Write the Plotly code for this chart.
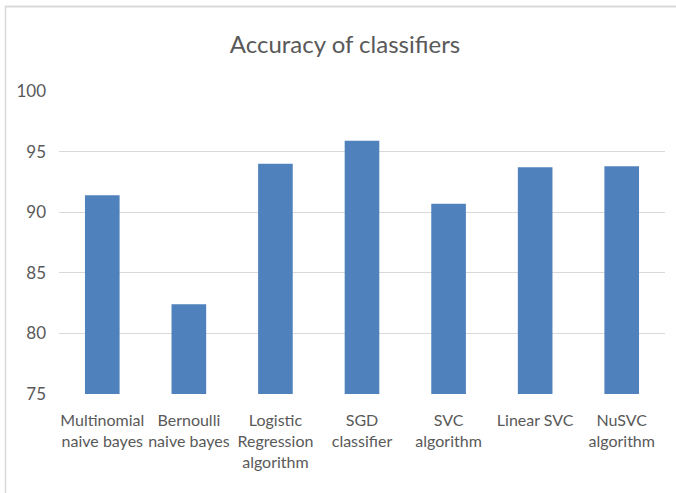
import plotly.graph_objects as go

categories = [
    "Multinomial<br>naive bayes",
    "Bernoulli<br>naive bayes",
    "Logistic<br>Regression<br>algorithm",
    "SGD<br>classifier",
    "SVC<br>algorithm",
    "Linear SVC",
    "NuSVC<br>algorithm",
]
accuracy = [91.4, 82.4, 94.0, 95.9, 90.7, 93.7, 93.8]
y_ticks = [75, 80, 85, 90, 95, 100]

W, H = 676, 493
L, R, T, B = 59, 11, 91, 99
pw, ph = W - L - R, H - T - B

def px_x(px):
    return (px - L) / pw

def px_y(py):
    return (H - B - py) / ph

font = "Lato, 'Open Sans', sans-serif"

fig = go.Figure(go.Bar(
    x=categories, y=accuracy,
    marker=dict(color="#4F81BD", line=dict(width=0)),
))

fig.update_layout(
    width=W, height=H,
    margin=dict(l=L, r=R, t=T, b=B),
    paper_bgcolor="white", plot_bgcolor="white",
    bargap=0.6,
    showlegend=False,
    title=dict(text="Accuracy of classifiers", x=345 / W, xanchor="center",
               y=1 - 45 / H, yanchor="middle", yref="container",
               font=dict(family=font, size=24, color="#595959")),
    font=dict(family=font, size=16, color="#595959"),
    xaxis=dict(showgrid=False, showline=False, ticks="", tickfont=dict(size=16, color="#595959"),
               tickangle=0, ticklabelstandoff=15),
    yaxis=dict(range=[75, 100], tickvals=y_ticks, showgrid=True, gridcolor="#d9d9d9",
               gridwidth=1, zeroline=False, showline=False, ticks="",
               ticklabelstandoff=12, tickfont=dict(size=17, color="#595959")),
    shapes=[
        dict(type="line", xref="paper", yref="paper", x0=px_x(5), x1=px_x(676),
             y0=px_y(6.5), y1=px_y(6.5), line=dict(color="#d9d9d9", width=2)),
        dict(type="line", xref="paper", yref="paper", x0=px_x(5.5), x1=px_x(5.5),
             y0=px_y(6), y1=px_y(493), line=dict(color="#d9d9d9", width=1.5)),
    ],
)

fig.write_html("out.html", config={"displayModeBar": False},
               post_script="document.body.style.margin='0';document.body.style.overflow='hidden';")
